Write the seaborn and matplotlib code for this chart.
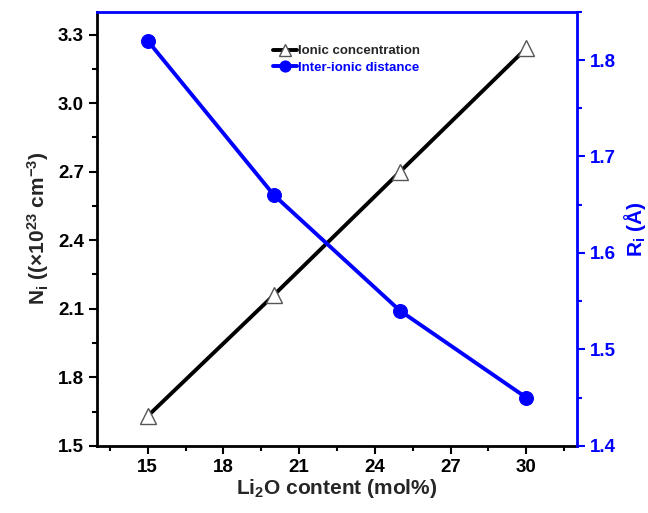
"""Ionic concentration and inter-ionic distance vs Li2O content,
drawn on twin y axes.
"""
import pandas as pd
import seaborn as sns
import matplotlib.pyplot as plt
from matplotlib.ticker import MultipleLocator

sns.set_style("ticks")
plt.rcParams["font.family"] = ["Liberation Sans", "DejaVu Sans"]
plt.rcParams["font.weight"] = "bold"
plt.rcParams["mathtext.default"] = "regular"

# Data.
li2o = [15, 20, 25, 30]
ionic_conc = [1.63, 2.16, 2.70, 3.24]
inter_dist = [1.82, 1.66, 1.54, 1.45]

df = pd.DataFrame({"li2o": li2o, "N": ionic_conc, "R": inter_dist})

BLUE = "#0000ff"

fig = plt.figure(figsize=(6.48, 5.13), dpi=100)
ax = fig.add_axes([0.150, 0.131, 0.740, 0.846])
ax2 = ax.twinx()

sns.lineplot(data=df, x="li2o", y="N", ax=ax, color="black", linewidth=2.8,
             marker="^", markersize=11, markerfacecolor="white",
             markeredgecolor="#555555", markeredgewidth=1.0,
             label="Ionic concentration", legend=False)
sns.lineplot(data=df, x="li2o", y="R", ax=ax2, color=BLUE, linewidth=2.8,
             marker="o", markersize=10, markerfacecolor=BLUE,
             markeredgecolor=BLUE, label="Inter-ionic distance", legend=False)

# x axis
ax.set_xlim(13, 32)
ax.xaxis.set_major_locator(MultipleLocator(3))
ax.xaxis.set_minor_locator(MultipleLocator(1.5))
ax.set_xlabel("Li$_2$O content (mol%)", fontsize=15, fontweight="bold", labelpad=1)

# left axis
ax.set_ylim(1.5, 3.4)
ax.yaxis.set_major_locator(MultipleLocator(0.3))
ax.yaxis.set_minor_locator(MultipleLocator(0.15))
ax.set_ylabel("N$_i$ ((×10$^{23}$ cm$^{-3}$)", fontsize=15, fontweight="bold",
              labelpad=5)

# right axis
ax2.set_ylim(1.4, 1.85)
ax2.yaxis.set_major_locator(MultipleLocator(0.1))
ax2.yaxis.set_minor_locator(MultipleLocator(0.05))
ax2.set_ylabel("R$_i$ (Å)", fontsize=15, fontweight="bold", color=BLUE,
               labelpad=4)

for a in (ax, ax2):
    a.tick_params(which="major", length=6, width=1.5, labelsize=13.5)
    a.tick_params(which="minor", length=3.5, width=1.5)
    for lab in a.get_xticklabels() + a.get_yticklabels():
        lab.set_fontweight("bold")

ax.tick_params(axis="both", which="both", colors="black")
ax2.tick_params(axis="y", which="both", colors=BLUE, labelcolor=BLUE)

for side in ["left", "bottom"]:
    ax.spines[side].set_linewidth(2)
    ax.spines[side].set_color("black")
ax.spines["top"].set_visible(False)
ax.spines["right"].set_visible(False)
for side in ["top", "right"]:
    ax2.spines[side].set_linewidth(2)
    ax2.spines[side].set_color(BLUE)
ax2.spines["left"].set_visible(False)
ax2.spines["bottom"].set_visible(False)

# legend
h1, l1 = ax.get_legend_handles_labels()
h2, l2 = ax2.get_legend_handles_labels()
leg = ax.legend(h1 + h2, l1 + l2, loc="center", bbox_to_anchor=(0.52, 0.89),
                frameon=False, fontsize=9.5, handlelength=1.8, handletextpad=0.1,
                labelspacing=0.35, markerscale=0.8)
leg.get_texts()[1].set_color(BLUE)

fig.savefig("out.png", dpi=100)
